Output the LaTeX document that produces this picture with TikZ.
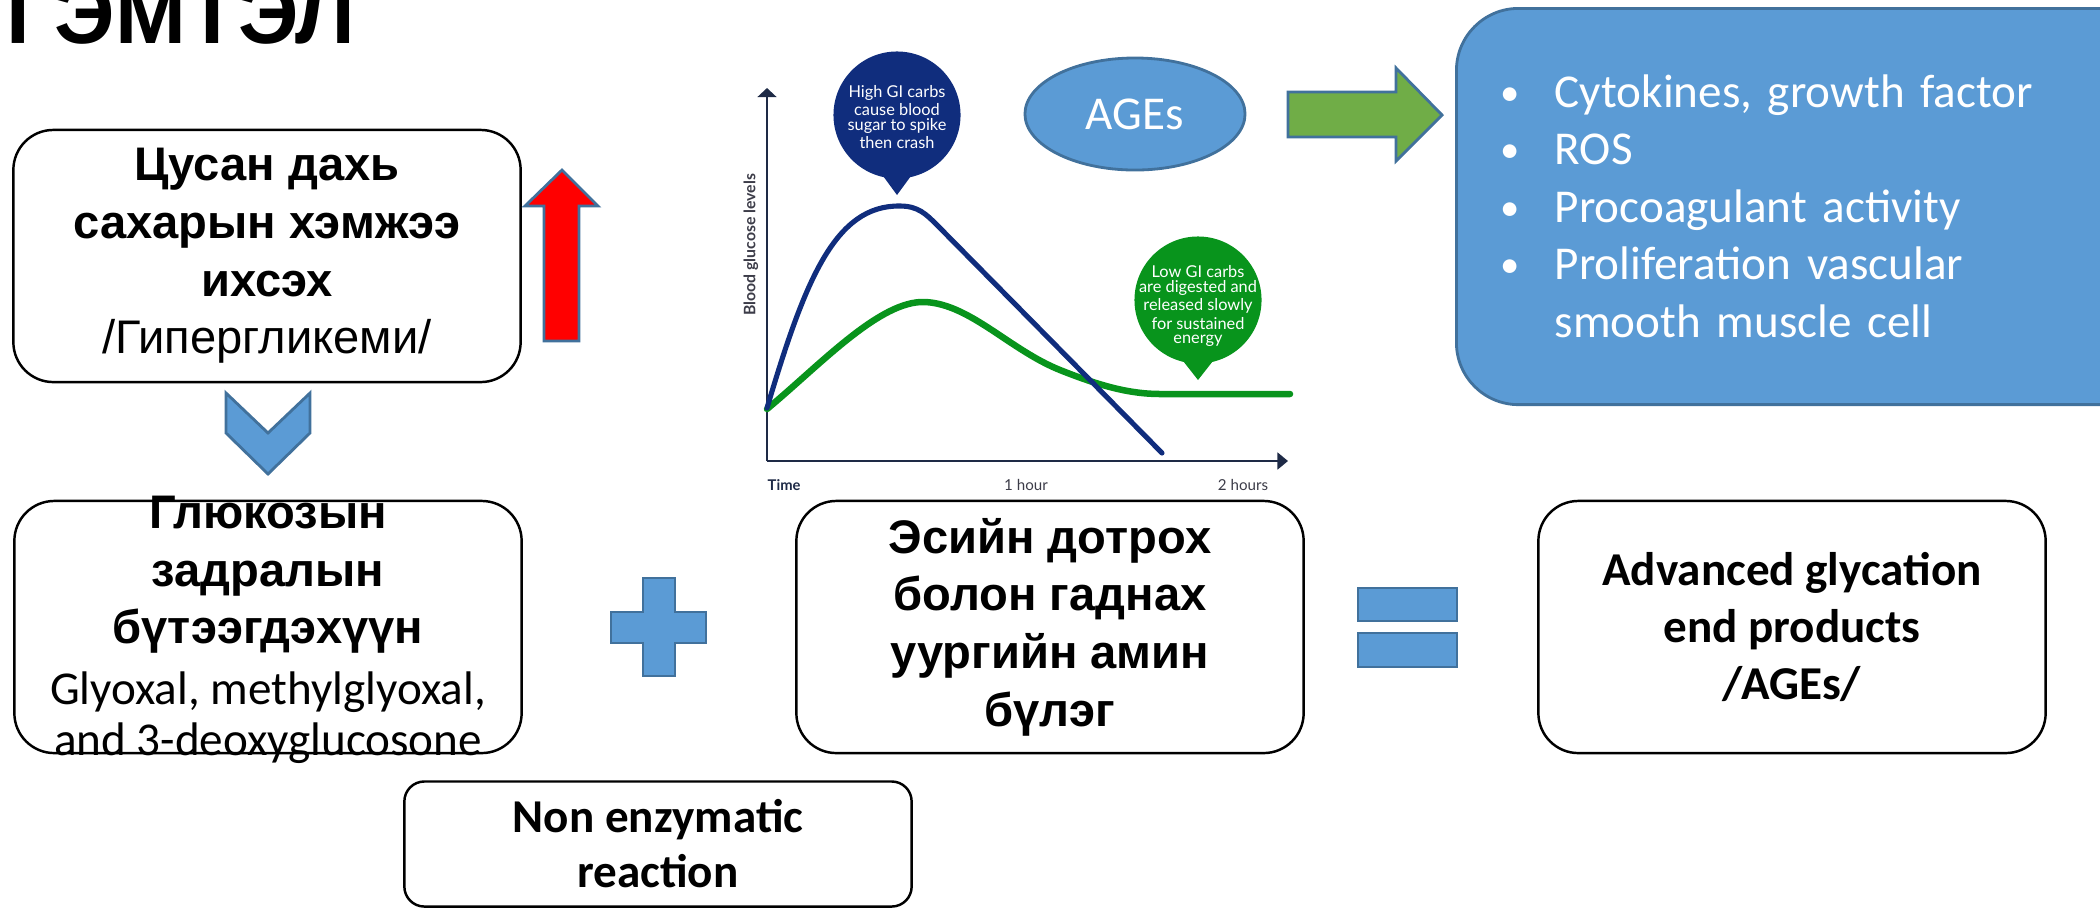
\documentclass[tikz,border=0pt]{standalone}
\usepackage{fontspec}
\setmainfont{Liberation Sans}
\newfontfamily\carlito{Carlito}
\newfontfamily\latof{Lato}
\usetikzlibrary{positioning,arrows.meta,shapes.geometric}

\definecolor{accentblue}{HTML}{5B9BD5}
\definecolor{accentline}{HTML}{41719C}
\definecolor{accentgreen}{HTML}{70AD47}
\definecolor{curvenavy}{RGB}{16,45,125}
\definecolor{curvegreen}{RGB}{8,148,28}
\definecolor{axisdark}{RGB}{30,42,70}
\definecolor{labelgray}{RGB}{60,60,72}

\newcommand{\effitem}{\makebox[0.54cm][l]{\raisebox{0.5pt}{\fontsize{11}{11}\selectfont•}}}

\begin{document}
\begin{tikzpicture}[x=0.01cm,y=-0.01cm,
    whitebox/.style={draw=black,line width=0.7pt,rounded corners=0.4cm,fill=white,
      inner sep=0pt,align=center,minimum width=5.07cm,minimum height=2.52cm},
    cyrtext/.style={font=\fontsize{13.4}{16.4}\selectfont\bfseries},
    engtext/.style={font=\carlito\fontsize{13.4}{16.2}\selectfont\bfseries},
    blockshape/.style={fill=accentblue,draw=accentline,line width=0.8pt},
    bubble/.style={circle,inner sep=0pt,minimum size=1.27cm},
    bubbletext/.style={align=center,text=white,inner sep=0pt,
      font=\latof\fontsize{4.65}{4.18}\selectfont},
    axislabel/.style={inner sep=0pt,font=\latof\fontsize{4.3}{5}\selectfont}]

  \clip (0,0) rectangle (2100,908);

  % title, cut at the top edge
  \node[anchor=base west,inner sep=0pt,font=\fontsize{24.2}{29}\selectfont\bfseries]
    (title) at (6,43) {ГЭМТЭЛ};

  % left column
  \node[whitebox,cyrtext] (hyper) at (267,256)
    {Цусан дахь\\сахарын хэмжээ\\ихсэх\\{\mdseries /Гипергликеми/}};
  \draw[blockshape,fill=red] (544,341) -- (544,206) -- (525,206) -- (562,170)
    -- (598,206) -- (579,206) -- (579,341) -- cycle;
  \draw[blockshape] (226,393) -- (268,433) -- (310,393) -- (310,433)
    -- (268,474) -- (226,433) -- cycle;
  \node[whitebox,cyrtext] (glucose) at (268,627) {};
  \node[align=center,inner sep=0pt,cyrtext,yshift=-0.025cm] (glucosetext) at (268,627)
    {Глюкозын\\задралын\\бүтээгдэхүүн\\[0.85pt]{\carlito\mdseries Glyoxal, methylglyoxal,}\\[-2pt]
     {\carlito\mdseries and 3-deoxyglucosone}};

  % plus
  \draw[blockshape] (611,612) -- (643,612) -- (643,578) -- (675,578) -- (675,612)
    -- (706,612) -- (706,643) -- (675,643) -- (675,676) -- (643,676) -- (643,643)
    -- (611,643) -- cycle;

  \node[whitebox,engtext,rounded corners=0.2cm,minimum height=1.25cm,
    font=\carlito\fontsize{13.4}{15.6}\selectfont\bfseries] (nonenz) at (658,844)
    {Non enzymatic\\reaction};

  \node[whitebox,cyrtext] (amino) at (1050,627)
    {Эсийн дотрох\\болон гаднах\\уургийн амин\\бүлэг};

  % equals
  \draw[blockshape] (1358,588) rectangle (1457,621);
  \draw[blockshape] (1358,633) rectangle (1457,667);

  \node[whitebox,engtext] (agesbox) at (1792,627)
    {Advanced glycation\\end products\\/AGEs/};

  % chart
  \coordinate (origin) at (767,461);
  \coordinate (ytop) at (767,88);
  \coordinate (xend) at (1288,461);
  \draw[axisdark,line width=0.6pt,-{Triangle[width=5.4pt,length=2.6pt]}] (origin) -- (ytop);
  \draw[axisdark,line width=0.6pt,-{Triangle[width=4.8pt,length=3pt]}] (origin) -- (xend);

  \draw[curvegreen,line width=1.85pt,line cap=round]
    (767,409) .. controls (820,365) and (880,300) .. (925,302)
    .. controls (970,304) and (1010,350) .. (1060,370)
    .. controls (1100,386) and (1130,394) .. (1160,394) -- (1290,394);
  \draw[curvenavy,line width=1.45pt,line cap=round]
    (767,408) .. controls (805,280) and (835,205) .. (900,206)
    .. controls (918,206) and (926,214) .. (937,225) -- (1162,453);

  \node[bubble,fill=curvenavy] (highgi) at (897,115) {};
  \fill[curvenavy] (875,165) -- (919,165) -- (897,195) -- cycle;
  \node[bubbletext] (highgitext) at (897,117)
    {High GI carbs\\cause blood\\sugar to spike\\then crash};

  \node[bubble,fill=curvegreen] (lowgi) at (1198,300) {};
  \fill[curvegreen] (1176,352) -- (1220,352) -- (1198,380) -- cycle;
  \node[bubbletext] (lowgitext) at (1198,306)
    {Low GI carbs\\are digested and\\released slowly\\for sustained\\energy};

  \node[axislabel,text=labelgray,font=\latof\bfseries\fontsize{4.5}{5}\selectfont,rotate=90]
    (ylabel) at (751,245) {Blood glucose levels};
  \node[axislabel,anchor=base west,text=axisdark,font=\latof\bfseries\fontsize{4.2}{5}\selectfont]
    (timelabel) at (767,490) {Time};
  \node[axislabel,anchor=base,text=labelgray] (onehour) at (1026,490) {1 hour};
  \node[axislabel,anchor=base,text=labelgray] (twohours) at (1243,490) {2 hours};

  % AGEs and their effects
  \node[ellipse,blockshape,minimum width=2.2cm,minimum height=1.12cm,text=white,
    font=\carlito\fontsize{13.4}{16}\selectfont] (ages) at (1135,114) {AGEs};
  \draw[blockshape,fill=accentgreen] (1288,92) -- (1396,92) -- (1396,68) -- (1442,115)
    -- (1396,161) -- (1396,137) -- (1288,137) -- cycle;
  \node[blockshape,rounded corners=0.62cm,minimum width=7.2cm,minimum height=3.96cm,
    anchor=north west] (effects) at (1455,7) {};
  \node[anchor=base west,inner sep=0pt,text width=6cm,align=left,text=white,
    font=\carlito\fontsize{13.4}{16.36}\selectfont] (effectlist) at (1500,107)
    {\effitem Cytokines, growth factor\\
     \effitem ROS\\
     \effitem Procoagulant activity\\
     \effitem Proliferation vascular\\
     \hspace*{0.54cm}smooth muscle cell};
\end{tikzpicture}
\end{document}
